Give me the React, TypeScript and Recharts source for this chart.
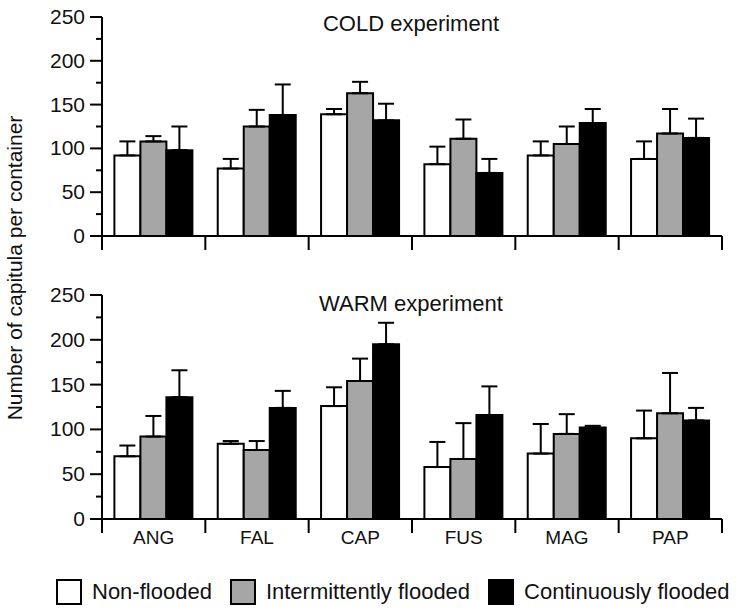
import React from 'react';
import { BarChart, Bar, XAxis, YAxis, ErrorBar, Legend } from 'recharts';

const categories = ['ANG', 'FAL', 'CAP', 'FUS', 'MAG', 'PAP'];

const seriesNames = ['Non-flooded', 'Intermittently flooded', 'Continuously flooded'];
const seriesFills = ['#ffffff', '#a6a6a6', '#000000'];

// COLD experiment: means and upper error
const coldNon = [92, 77, 139, 82, 92, 88];
const coldNonErr = [16, 11, 6, 20, 16, 20];
const coldInt = [108, 125, 163, 111, 105, 117];
const coldIntErr = [6, 19, 13, 22, 20, 28];
const coldCont = [98, 138, 132, 72, 129, 112];
const coldContErr = [27, 35, 19, 16, 16, 22];

// WARM experiment
const warmNon = [70, 84, 126, 58, 73, 90];
const warmNonErr = [12, 3, 21, 28, 33, 31];
const warmInt = [92, 77, 154, 67, 95, 118];
const warmIntErr = [23, 10, 25, 40, 22, 45];
const warmCont = [136, 124, 195, 116, 102, 110];
const warmContErr = [30, 19, 24, 32, 2, 14];

const yTicks = [0, 25, 50, 75, 100, 125, 150, 175, 200, 225, 250];

const FONT = '"Liberation Sans", Arial, Helvetica, sans-serif';

const buildRows = (a: number[], ae: number[], b: number[], be: number[], c: number[], ce: number[]) =>
  categories.map((cat, i) => ({
    cat,
    s0: a[i], e0: [0, ae[i]],
    s1: b[i], e1: [0, be[i]],
    s2: c[i], e2: [0, ce[i]],
  }));

const coldData = buildRows(coldNon, coldNonErr, coldInt, coldIntErr, coldCont, coldContErr);
const warmData = buildRows(warmNon, warmNonErr, warmInt, warmIntErr, warmCont, warmContErr);

const YTick = ({ x, y, payload }: any) => {
  const major = payload.value % 50 === 0;
  return (
    <g>
      <line x1={x - (major ? 12 : 6)} x2={x} y1={y} y2={y} stroke="#000" strokeWidth={2} />
      {major && (
        <text x={x - 17} y={y} dy={7} textAnchor="end" fontSize={21} fontFamily={FONT} fill="#111">
          {payload.value}
        </text>
      )}
    </g>
  );
};

const makeXTick = (showLabel: boolean) => ({ x, y, payload, index, visibleTicksCount }: any) => {
  const half = payload.offset || 51.7;
  const last = index === visibleTicksCount - 1;
  return (
    <g>
      <line x1={x - half} x2={x - half} y1={y} y2={y + 14} stroke="#000" strokeWidth={2} />
      {last && <line x1={x + half} x2={x + half} y1={y} y2={y + 14} stroke="#000" strokeWidth={2} />}
      {showLabel && (
        <text x={x} y={y} dy={25} textAnchor="middle" fontSize={19} fontFamily={FONT} fill="#111">
          {payload.value}
        </text>
      )}
    </g>
  );
};

const LegendContent = () => (
  <div style={{ display: 'flex', alignItems: 'center', height: 34, paddingLeft: 56, fontFamily: FONT, fontSize: 22, color: '#111', whiteSpace: 'nowrap' }}>
    {seriesNames.map((name, i) => (
      <div key={name} style={{ display: 'flex', alignItems: 'center', marginRight: 18, flexShrink: 0 }}>
        <div style={{ width: 22, height: 22, border: '2px solid #000', background: seriesFills[i], marginRight: 10, flexShrink: 0 }} />
        <span style={{ whiteSpace: 'nowrap' }}>{name}</span>
      </div>
    ))}
  </div>
);

const renderBars = () =>
  seriesNames.map((name, i) => (
    <Bar key={name} dataKey={`s${i}`} name={name} fill={seriesFills[i]} stroke="#000" strokeWidth={2} isAnimationActive={false}>
      <ErrorBar dataKey={`e${i}`} width={8} stroke="#000" strokeWidth={2} />
    </Bar>
  ));

const axisLine = { stroke: '#000', strokeWidth: 2 };

export default function App() {
  return (
    <div style={{ position: 'absolute', left: 0, top: 0, width: 742, height: 611, background: '#fff', fontFamily: FONT }}>
      <div style={{ position: 'absolute', left: 0, top: 0 }}>
        <BarChart width={742} height={262} data={coldData} margin={{ top: 17, right: 20, bottom: 0, left: 0 }} barGap={0} barCategoryGap="12%">
          <XAxis dataKey="cat" height={26} axisLine={axisLine} tickLine={false} tickSize={0} tickMargin={0} interval={0} tick={makeXTick(false)} />
          <YAxis width={102} domain={[0, 250]} ticks={yTicks} interval={0} axisLine={axisLine} tickLine={false} tickSize={0} tickMargin={0} tick={<YTick />} />
          {renderBars()}
        </BarChart>
      </div>
      <div style={{ position: 'absolute', left: 0, top: 270 }}>
        <BarChart width={742} height={341} data={warmData} margin={{ top: 25, right: 20, bottom: 2, left: 0 }} barGap={0} barCategoryGap="12%">
          <XAxis dataKey="cat" height={56} axisLine={axisLine} tickLine={false} tickSize={0} tickMargin={0} interval={0} tick={makeXTick(true)} />
          <YAxis width={102} domain={[0, 250]} ticks={yTicks} interval={0} axisLine={axisLine} tickLine={false} tickSize={0} tickMargin={0} tick={<YTick />} />
          {renderBars()}
          <Legend verticalAlign="bottom" wrapperStyle={{ left: 0, width: 742 }} content={<LegendContent />} />
        </BarChart>
      </div>
      <svg width={742} height={611} style={{ position: 'absolute', left: 0, top: 0, pointerEvents: 'none' }}>
        <text x={411} y={31} textAnchor="middle" fontSize={22} fontFamily={FONT} fill="#111">COLD experiment</text>
        <text x={411} y={311} textAnchor="middle" fontSize={22} fontFamily={FONT} fill="#111">WARM experiment</text>
        <text transform="translate(22, 268) rotate(-90)" textAnchor="middle" fontSize={21} fontFamily={FONT} fill="#111">
          Number of capitula per container
        </text>
      </svg>
    </div>
  );
}
